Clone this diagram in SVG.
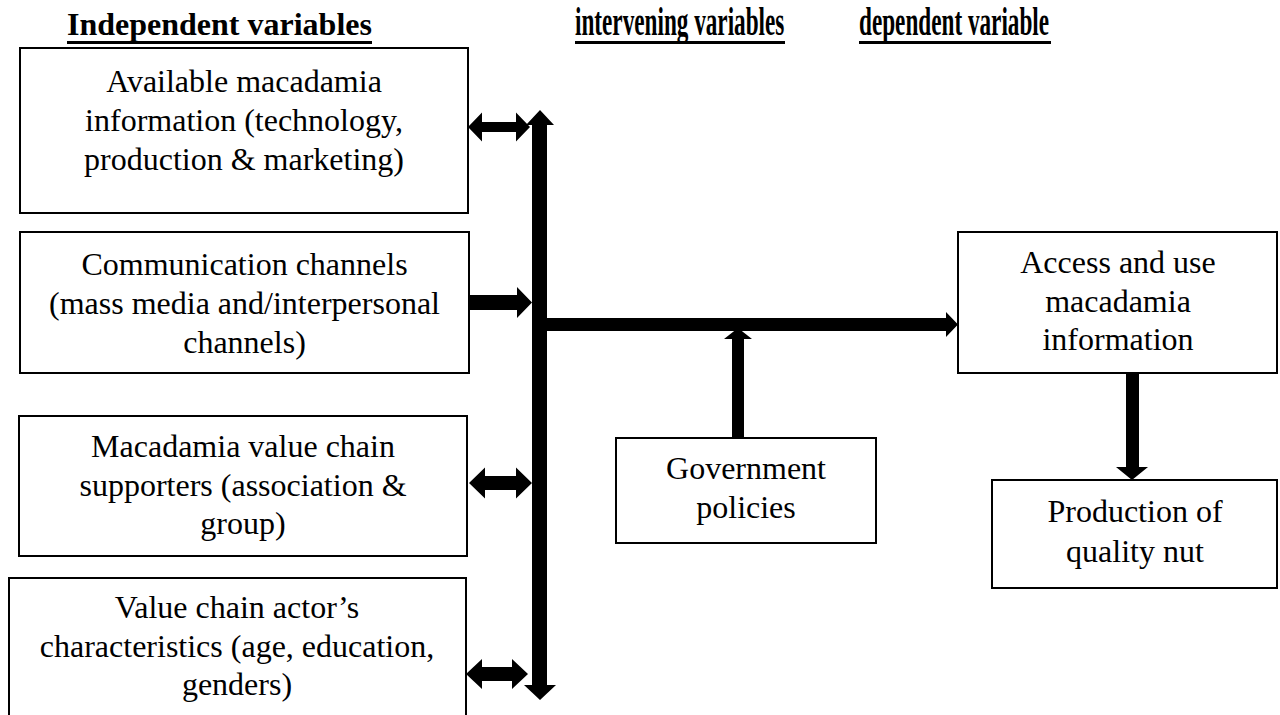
<svg xmlns="http://www.w3.org/2000/svg" width="1280" height="715" viewBox="0 0 1280 715">
<style>
.box{fill:#fff;stroke:#000;stroke-width:2}
.t{font-family:'Liberation Serif','DejaVu Serif',serif;font-weight:400;font-style:normal;font-size:32px;fill:#000;text-anchor:middle}
.h{font-family:'Liberation Serif','DejaVu Serif',serif;font-weight:700;fill:#000}
.arr{fill:#000;stroke:none}
</style>
<rect width="1280" height="715" fill="#fff"/>
<g id="headers">
<text class="h" x="67" y="35" font-size="32">Independent variables</text>
<rect x="67" y="41" width="305" height="3" fill="#000"/>
<text class="h" font-size="40" transform="translate(575,35) scale(0.58,1)">intervening variables</text>
<rect x="575" y="41" width="210" height="3" fill="#000"/>
<text class="h" font-size="40" transform="translate(859,35) scale(0.58,1)">dependent variable</text>
<rect x="859" y="41" width="192" height="3" fill="#000"/>
</g>
<g id="connectors">
<polygon class="arr" points="468,127 482,112.5 482,122 516,122 516,112.5 530,127 516,141.5 516,132 482,132 482,141.5"/>
<polygon class="arr" points="468,295 517,295 517,287 532,302.5 517,318 517,310 468,310"/>
<polygon class="arr" points="469,483 485,467.5 485,476 516,476 516,467.5 532,483 516,498.5 516,490 485,490 485,498.5"/>
<polygon class="arr" points="466,674 482,659 482,667 512,667 512,659 528,674 512,689 512,681 482,681 482,689"/>
<polygon class="arr" points="540,110 554,125 547,125 547,685 556,685 540,700 524,685 532,685 532,125 526,125"/>
<polygon class="arr" points="547,318 946,318 946,312 958,324.5 946,337 946,331 547,331"/>
<polygon class="arr" points="732,438 732,339 724,339 738,328 752,339 744,339 744,438"/>
<polygon class="arr" points="1126,373 1139,373 1139,467 1148,467 1132,480 1116,467 1126,467"/>
</g>
<g id="node-available">
<rect class="box" x="20" y="48" width="448" height="165"/>
<text class="t" x="244" y="92">Available macadamia</text>
<text class="t" x="244" y="131">information (technology,</text>
<text class="t" x="244" y="170">production &amp; marketing)</text>
</g>
<g id="node-communication">
<rect class="box" x="20" y="232" width="449" height="141"/>
<text class="t" x="244.5" y="275">Communication channels</text>
<text class="t" x="244.5" y="314">(mass media and/interpersonal</text>
<text class="t" x="244.5" y="353">channels)</text>
</g>
<g id="node-supporters">
<rect class="box" x="19" y="416" width="448" height="140"/>
<text class="t" x="243" y="457">Macadamia value chain</text>
<text class="t" x="243" y="496">supporters (association &amp;</text>
<text class="t" x="243" y="534">group)</text>
</g>
<g id="node-characteristics">
<rect class="box" x="9" y="578" width="457" height="150"/>
<text class="t" x="237" y="618">Value chain actor’s</text>
<text class="t" x="237" y="657">characteristics (age, education,</text>
<text class="t" x="237" y="695">genders)</text>
</g>
<g id="node-government">
<rect class="box" x="616" y="438" width="260" height="105"/>
<text class="t" x="746" y="479">Government</text>
<text class="t" x="746" y="518">policies</text>
</g>
<g id="node-access">
<rect class="box" x="958" y="232" width="319" height="141"/>
<text class="t" x="1118" y="273">Access and use</text>
<text class="t" x="1118" y="312">macadamia</text>
<text class="t" x="1118" y="350">information</text>
</g>
<g id="node-production">
<rect class="box" x="992" y="480" width="285" height="108"/>
<text class="t" x="1135" y="522">Production of</text>
<text class="t" x="1135" y="562">quality nut</text>
</g>
</svg>
